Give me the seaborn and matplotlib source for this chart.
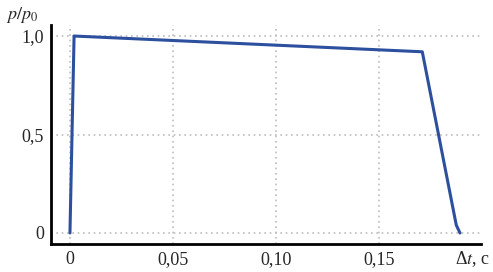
import matplotlib
matplotlib.use("Agg")
import matplotlib.pyplot as plt
import seaborn as sns
import pandas as pd

# данные: относительное давление во времени
t = [0.0, 0.002, 0.171, 0.1875, 0.1893]
p = [0.0, 1.0, 0.92, 0.04, 0.0]
xticks = [0, 0.05, 0.10, 0.15]
xlabels = ["0", "0,05", "0,10", "0,15"]
yticks = [0, 0.5, 1.0]
ylabels = ["0", "0,5", "1,0"]

sns.set_style("white")
plt.rcParams['font.family'] = ['Liberation Serif', 'DejaVu Serif']

fig = plt.figure(figsize=(4.93, 2.72), dpi=100)
ax = fig.add_axes([51 / 493, 1 - 244 / 272, 430 / 493, 219 / 272])

df = pd.DataFrame({"t": t, "p": p})
sns.lineplot(data=df, x="t", y="p", ax=ax, color="#2c4f9e", linewidth=2.2, sort=False)

ax.set_xlim(-0.0092, 0.1995)
ax.set_ylim(-0.056, 1.056)
ax.set_xticks(xticks)
ax.set_xticklabels(xlabels)
ax.set_yticks(yticks)
ax.set_yticklabels(ylabels)
ax.tick_params(length=0, labelsize=13, pad=5)
ax.grid(True, linestyle=(0, (1, 2.2)), color="#bdbdbd", linewidth=1.2)
ax.set_axisbelow(True)
ax.set_xlabel("")
ax.set_ylabel("")

for s in ["top", "right"]:
    ax.spines[s].set_visible(False)
for s in ["left", "bottom"]:
    ax.spines[s].set_color("black")
    ax.spines[s].set_linewidth(2)

fig.text(6 / 493, 1 - 15 / 272, "$p/p_0$", fontsize=13, va="center", ha="left",
         math_fontfamily="stix")
fig.text(490 / 493, 1 - 259 / 272, "Δ$t$, с", fontsize=13, va="center", ha="right",
         math_fontfamily="stix")

fig.savefig("out.png", dpi=100)
